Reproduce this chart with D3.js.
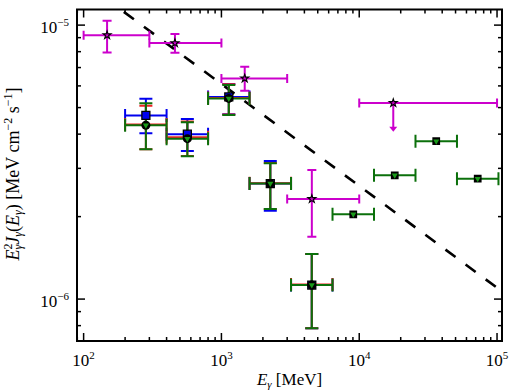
<!DOCTYPE html>
<html>
<head>
<meta charset="utf-8">
<script src="https://cdn.jsdelivr.net/npm/d3@7"></script>
<style>
  body { margin: 0; background: #fff; }
  text { font-family: "Liberation Serif", "DejaVu Serif", serif; fill: #000; }
</style>
</head>
<body>
<div id="chart"></div>
<script>
// binned spectra: energy bin edges (MeV), bin centre, flux, flux err low/high
const binLo = [200, 400, 800, 1600, 3200];
const binHi = [400, 800, 1600, 3200, 6400];
const binE = [283, 566, 1131, 2263, 4525];

const blueF = [4.68e-6, 4.0e-6, 5.47e-6, 2.64e-6, 1.125e-6];
const blueLo = [4.03e-6, 3.47e-6, 4.73e-6, 2.1e-6, 7.82e-7];
const blueHi = [5.38e-6, 4.54e-6, 6.09e-6, 3.19e-6, 1.46e-6];

const redF = [4.34e-6, 3.9e-6, 5.42e-6, 2.65e-6, 1.13e-6];
const redLo = [3.52e-6, 3.33e-6, 4.72e-6, 2.13e-6, 7.83e-7];
const redHi = [5.08e-6, 4.45e-6, 6.08e-6, 3.14e-6, 1.46e-6];

const greenF = [4.31e-6, 3.85e-6, 5.4e-6, 2.64e-6, 1.125e-6];
const greenLo = [3.52e-6, 3.32e-6, 4.7e-6, 2.13e-6, 7.83e-7];
const greenHi = [5.19e-6, 4.42e-6, 6.05e-6, 3.13e-6, 1.46e-6];

// high energy points, no flux error
const hiLo = [6400, 12800, 25600, 51200];
const hiHi = [12800, 25600, 51200, 102400];
const hiE = [9051, 18102, 36204, 72408];
const hiF = [2.04e-6, 2.83e-6, 3.77e-6, 2.75e-6];

// magenta stars
const starLo = [100, 300, 1000, 3000];
const starHi = [300, 1000, 3000, 10000];
const starE = [148, 460, 1476, 4530];
const starF = [9.19e-6, 8.6e-6, 6.39e-6, 2.32e-6];
const starFLo = [7.95e-6, 7.93e-6, 5.76e-6, 1.69e-6];
const starFHi = [1.037e-5, 9.29e-6, 7.05e-6, 2.96e-6];

// upper limit
const ulLo = [10000];
const ulHi = [100000];
const ulE = [17660];
const ulF = [5.2e-6];
const ulArrow = [4.08e-6];

// dashed model line
const lineE = [100, 100000];
const lineF = [1.435e-5, 1.1e-6];

const xTicks = [1e2, 1e3, 1e4, 1e5];
const xTickExp = ["2", "3", "4", "5"];
const yTicks = [1e-6, 1e-5];
const yTickExp = ["\u22126", "\u22125"];

let w = 510;
let h = 392;
let pLeft = 77, pRight = 502, pTop = 9.5, pBottom = 341;

let svg = d3.select("#chart").append("svg").attr("width", w).attr("height", h);

let xScale = d3.scaleLog().domain([Math.pow(10, 1.952), Math.pow(10, 5.036)]).range([pLeft, pRight]);
let yScale = d3.scaleLog().domain([Math.pow(10, -6.153), Math.pow(10, -4.943)]).range([pBottom, pTop]);

svg.append("defs").append("clipPath").attr("id", "clip")
  .append("rect").attr("x", pLeft).attr("y", pTop).attr("width", pRight - pLeft).attr("height", pBottom - pTop);

let plot = svg.append("g").attr("clip-path", "url(#clip)");

// dashed line
plot.append("path")
  .datum(lineE.map((e, i) => [e, lineF[i]]))
  .attr("d", d3.line().x(d => xScale(d[0])).y(d => yScale(d[1])))
  .attr("fill", "none")
  .attr("stroke", "#000")
  .attr("stroke-width", 2.6)
  .attr("stroke-dasharray", "12.5,12.5");

function errorBars(E, lo, hi, F, fLo, fHi, colour, cap) {
  let g = plot.append("g").attr("stroke", colour).attr("stroke-width", 2).attr("fill", "none");
  E.forEach((e, i) => {
    let y = yScale(F[i]);
    g.append("line").attr("x1", xScale(lo[i])).attr("x2", xScale(hi[i])).attr("y1", y).attr("y2", y);
    g.append("line").attr("x1", xScale(lo[i])).attr("x2", xScale(lo[i])).attr("y1", y - cap).attr("y2", y + cap);
    g.append("line").attr("x1", xScale(hi[i])).attr("x2", xScale(hi[i])).attr("y1", y - cap).attr("y2", y + cap);
    if (fLo) {
      let x = xScale(e);
      g.append("line").attr("x1", x).attr("x2", x).attr("y1", yScale(fLo[i])).attr("y2", yScale(fHi[i]));
      g.append("line").attr("x1", x - cap).attr("x2", x + cap).attr("y1", yScale(fLo[i])).attr("y2", yScale(fLo[i]));
      g.append("line").attr("x1", x - cap).attr("x2", x + cap).attr("y1", yScale(fHi[i])).attr("y2", yScale(fHi[i]));
    }
  });
}

const magenta = "#cc00cc";
const blue = "#0000ee";
const red = "#ee2222";
const green = "#0b700b";

errorBars(starE, starLo, starHi, starF, starFLo, starFHi, magenta, 4.5);
errorBars(ulE, ulLo, ulHi, ulF, null, null, magenta, 4.5);
errorBars(binE, binLo, binHi, blueF, blueLo, blueHi, blue, 6.5);
errorBars(binE, binLo, binHi, redF, redLo, redHi, red, 6.5);
errorBars(binE, binLo, binHi, greenF, greenLo, greenHi, green, 6.5);
errorBars(hiE, hiLo, hiHi, hiF, null, null, green, 6.5);

// upper limit arrow
ulE.forEach((e, i) => {
  let x = xScale(e);
  let y2 = yScale(ulArrow[i]);
  plot.append("line").attr("x1", x).attr("x2", x).attr("y1", yScale(ulF[i])).attr("y2", y2 - 3)
    .attr("stroke", magenta).attr("stroke-width", 2);
  plot.append("path").attr("d", `M${x - 4},${y2 - 5}L${x + 4},${y2 - 5}L${x},${y2}Z`).attr("fill", magenta);
});

// markers
const starSym = d3.symbol().type(d3.symbolStar).size(20);
plot.selectAll(".star").data(starE.concat(ulE).map((e, i) => [e, starF.concat(ulF)[i]]))
  .enter().append("path")
  .attr("transform", d => `translate(${xScale(d[0])},${yScale(d[1])})`)
  .attr("d", starSym).attr("fill", magenta).attr("stroke", "#000").attr("stroke-width", 1.1);

plot.selectAll(".sq").data(binE.map((e, i) => [e, blueF[i]]))
  .enter().append("path")
  .attr("transform", d => `translate(${xScale(d[0])},${yScale(d[1])})`)
  .attr("d", d3.symbol().type(d3.symbolSquare).size(64)).attr("fill", blue).attr("stroke", "#000").attr("stroke-width", 1.3);

plot.selectAll(".circ").data(binE.map((e, i) => [e, greenF[i]]))
  .enter().append("circle")
  .attr("cx", d => xScale(d[0])).attr("cy", d => yScale(d[1])).attr("r", 4.5)
  .attr("fill", "#000");

plot.selectAll(".blk").data(hiE.map((e, i) => [e, hiF[i]]))
  .enter().append("path")
  .attr("transform", d => `translate(${xScale(d[0])},${yScale(d[1])})`)
  .attr("d", d3.symbol().type(d3.symbolSquare).size(60)).attr("fill", "#000");

plot.selectAll(".tri").data(binE.concat(hiE).map((e, i) => [e, greenF.concat(hiF)[i]]))
  .enter().append("path")
  .attr("transform", d => `translate(${xScale(d[0])},${yScale(d[1])}) rotate(180)`)
  .attr("d", d3.symbol().type(d3.symbolTriangle).size(16)).attr("fill", "#1a9a1a");

// ticks on all four sides, pointing inwards
function minorTicks(scale) {
  let [a, b] = scale.domain();
  let out = [];
  for (let p = Math.floor(Math.log10(a)); p <= Math.ceil(Math.log10(b)); p++) {
    for (let m = 1; m < 10; m++) {
      let v = m * Math.pow(10, p);
      if (v >= a && v <= b) out.push({ v: v, major: m === 1 });
    }
  }
  return out;
}

let ticks = svg.append("g").attr("stroke", "#000").attr("stroke-width", 1.5);
minorTicks(xScale).forEach(t => {
  let x = xScale(t.v);
  let len = t.major ? 8 : 4;
  ticks.append("line").attr("x1", x).attr("x2", x).attr("y1", pBottom).attr("y2", pBottom - len);
  ticks.append("line").attr("x1", x).attr("x2", x).attr("y1", pTop).attr("y2", pTop + len);
});
minorTicks(yScale).forEach(t => {
  let y = yScale(t.v);
  let len = t.major ? 8 : 4;
  ticks.append("line").attr("x1", pLeft).attr("x2", pLeft + len).attr("y1", y).attr("y2", y);
  ticks.append("line").attr("x1", pRight).attr("x2", pRight - len).attr("y1", y).attr("y2", y);
});

svg.append("rect").attr("x", pLeft).attr("y", pTop).attr("width", pRight - pLeft).attr("height", pBottom - pTop)
  .attr("fill", "none").attr("stroke", "#000").attr("stroke-width", 2);

// tick labels
xTicks.forEach((v, i) => {
  let t = svg.append("text").attr("x", xScale(v)).attr("y", 366).attr("text-anchor", "middle").style("font-size", "17px");
  t.append("tspan").text("10");
  t.append("tspan").attr("dy", -7).style("font-size", "11px").text(xTickExp[i]);
});
yTicks.forEach((v, i) => {
  let t = svg.append("text").attr("x", 69).attr("y", yScale(v) + 8).attr("text-anchor", "end").style("font-size", "17px");
  t.append("tspan").text("10");
  t.append("tspan").attr("dy", -7).style("font-size", "11px").text(yTickExp[i]);
});

// axis labels
let xl = svg.append("text").attr("x", (pLeft + pRight) / 2).attr("y", 385).attr("text-anchor", "middle").style("font-size", "17px");
xl.append("tspan").style("font-style", "italic").text("E");
xl.append("tspan").attr("dy", 3).style("font-size", "11px").style("font-style", "italic").text("\u03b3");
xl.append("tspan").attr("dy", -3).text(" [MeV]");

let yl = svg.append("text").attr("transform", "translate(19,174) rotate(-90)").attr("text-anchor", "middle").style("font-size", "18px");
yl.append("tspan").style("font-style", "italic").text("E");
yl.append("tspan").attr("dy", -7).style("font-size", "12px").text("2");
yl.append("tspan").attr("dx", -6).attr("dy", 10).style("font-size", "12px").style("font-style", "italic").text("\u03b3");
yl.append("tspan").attr("dy", -3).style("font-style", "italic").text("J");
yl.append("tspan").attr("dy", 3).style("font-size", "12px").style("font-style", "italic").text("\u03b3");
yl.append("tspan").attr("dy", -3).text("(");
yl.append("tspan").style("font-style", "italic").text("E");
yl.append("tspan").attr("dy", 3).style("font-size", "12px").style("font-style", "italic").text("\u03b3");
yl.append("tspan").attr("dy", -3).text(") [MeV cm");
yl.append("tspan").attr("dy", -7).style("font-size", "12px").text("\u22122");
yl.append("tspan").attr("dy", 7).text(" s");
yl.append("tspan").attr("dy", -7).style("font-size", "12px").text("\u22121");
yl.append("tspan").attr("dy", 7).text("]");
</script>
</body>
</html>
